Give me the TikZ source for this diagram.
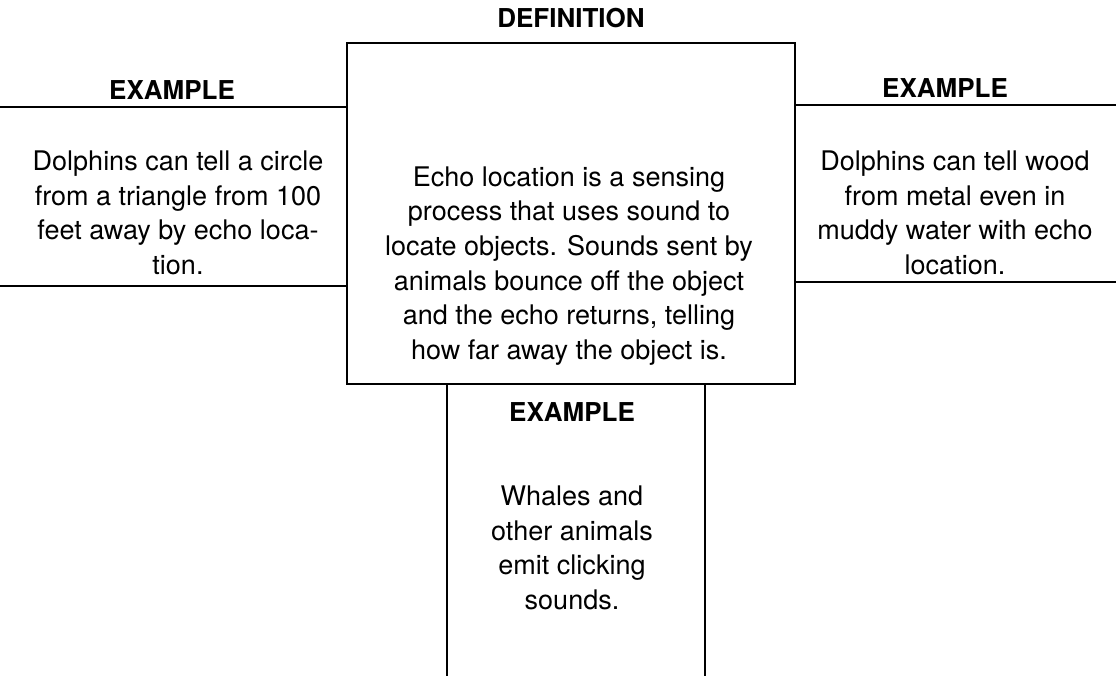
\documentclass[tikz,border=0pt]{standalone}
\usepackage{fontspec}
\setmainfont{TeX Gyre Heros}
\begin{document}
\begin{tikzpicture}[x=1pt,y=-1pt,
  rule/.style={line width=1.8pt, line cap=round},
  head/.style={font=\fontsize{26}{30}\selectfont\bfseries, inner sep=0pt},
  body/.style={font=\fontsize{27}{34.7}\selectfont, align=center, inner sep=0pt}]
\useasboundingbox (0,0) rectangle (1116,676);
\node[draw, line width=1.8pt, minimum width=448pt, minimum height=341pt, inner sep=0pt] (def) at (571,213.5) {};
% left lines
\coordinate (l1) at (0,107);
\coordinate (l2) at (0,286);
\draw[rule] (l1) -- (l1 -| def.west);
\draw[rule] (l2) -- (l2 -| def.west);
% right lines
\coordinate (r1) at (1116,105);
\coordinate (r2) at (1116,282);
\draw[rule] (r1 -| def.east) -- (r1);
\draw[rule] (r2 -| def.east) -- (r2);
% bottom lines
\coordinate (b1) at (447,676);
\coordinate (b2) at (705,676);
\draw[rule] (b1 |- def.south) -- (b1);
\draw[rule] (b2 |- def.south) -- (b2);
% titles
\node[head] (tdef) at (571,18) {DEFINITION};
\node[head] (tl) at (172,90) {EXAMPLE};
\node[head] (tr) at (945,88) {EXAMPLE};
\node[head] (tb) at (572,412) {EXAMPLE};
% bodies
\node[body] (bdef) at (569,266) {Echo location is a sensing\\process that uses sound to\\locate objects. Sounds sent by\\animals bounce off the object\\and the echo returns, telling\\how far away the object is.};
\node[body] (bl) at (178,213) {Dolphins can tell a circle\\from a triangle from 100\\feet away by echo loca-\\tion.};
\node[body] (br) at (955,213) {Dolphins can tell wood\\from metal even in\\muddy water with echo\\location.};
\node[body] (bb) at (572,548) {Whales and\\other animals\\emit clicking\\sounds.};
\end{tikzpicture}
\end{document}
